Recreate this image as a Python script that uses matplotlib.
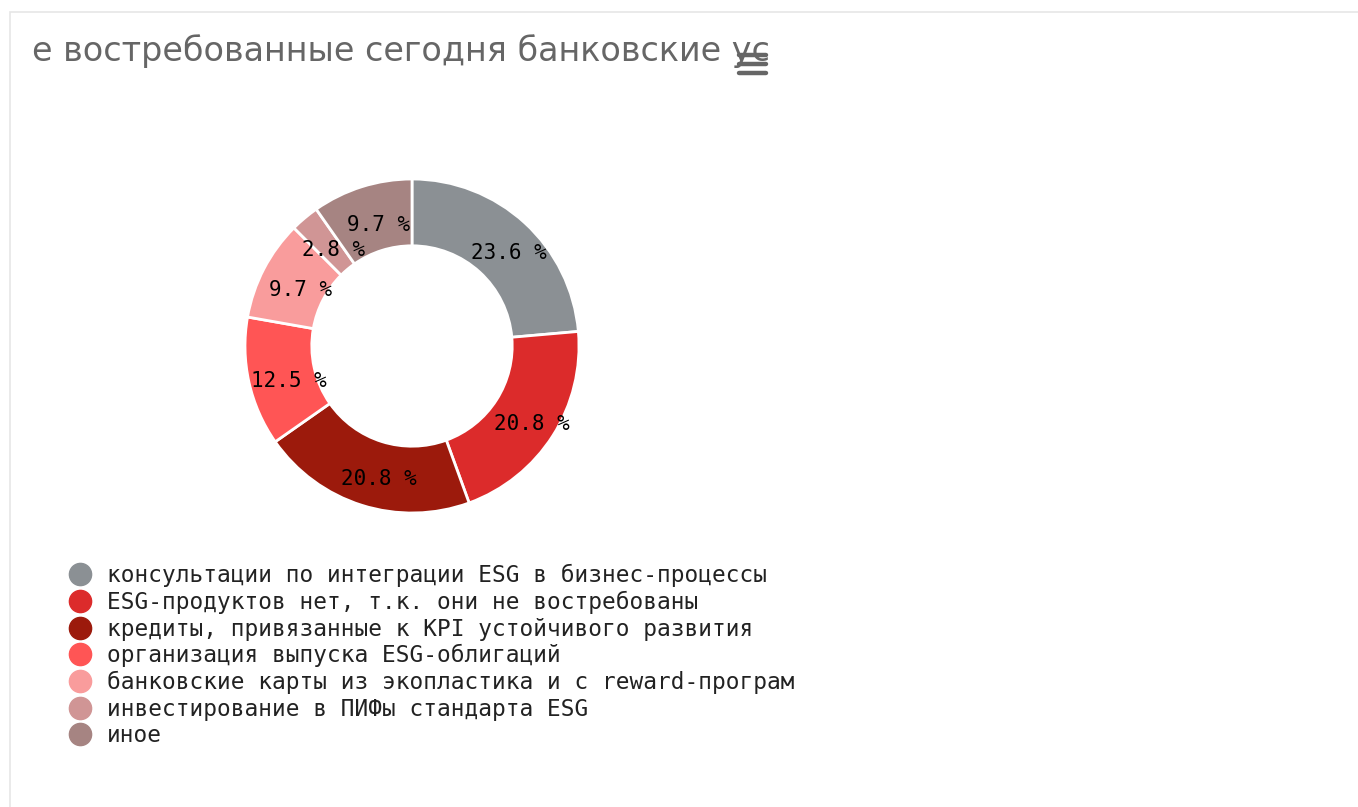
import matplotlib
matplotlib.use("Agg")
import matplotlib.pyplot as plt
from matplotlib.lines import Line2D
from matplotlib.patches import Rectangle
from matplotlib.transforms import Bbox, offset_copy

# данные
categories = [
    "консультации по интеграции ESG в бизнес-процессы",
    "ESG-продуктов нет, т.к. они не востребованы",
    "кредиты, привязанные к KPI устойчивого развития",
    "организация выпуска ESG-облигаций",
    "банковские карты из экопластика и с reward-програм",
    "инвестирование в ПИФы стандарта ESG",
    "иное",
]
counts = [17, 15, 15, 9, 7, 2, 7]
colors = ["#8b9094", "#dc2b2b", "#9c1a0c", "#ff5555", "#f99c9c", "#d09595", "#a68482"]
title = "е востребованные сегодня банковские ус"

W, H = 1358, 807
fig = plt.figure(figsize=(W / 100, H / 100), dpi=100)
fig.patch.set_facecolor("white")

# рамка контейнера
fig.add_artist(Rectangle((10 / W, -0.01), 1.0, 1 - 12 / H + 0.01, transform=fig.transFigure,
                         fill=False, edgecolor="#e6e6e6", linewidth=1.2))

# заголовок (обрезан справа, как в оригинале)
t = fig.text(32 / W, 1 - 51 / H, title, fontsize=24, color="#666666",
             family="DejaVu Sans", va="center", ha="left")
t.set_clip_on(True)
t.set_clip_box(Bbox.from_extents(0, 0, 790, H))

# иконка меню
for yy in (55, 64, 73):
    fig.add_artist(Line2D([739 / W, 766 / W], [1 - yy / H, 1 - yy / H], transform=fig.transFigure,
                          color="#666666", linewidth=3.2, solid_capstyle="round"))

# кольцевая диаграмма
cx, cy, r = 412, 346, 167
ax = fig.add_axes([(cx - r) / W, (H - cy - r) / H, 2 * r / W, 2 * r / H])
wedges, texts, autotexts = ax.pie(
    counts, colors=colors, startangle=90, counterclock=False,
    autopct=lambda p: f"{p:.1f} %", pctdistance=0.8, radius=1,
    wedgeprops=dict(width=0.4, edgecolor="white", linewidth=2),
    textprops=dict(family="DejaVu Sans Mono", fontsize=15, color="black"),
)
for at in autotexts:
    at.set_transform(offset_copy(ax.transData, fig=fig, x=7, y=-6, units="dots"))
ax.set_xlim(-1, 1)
ax.set_ylim(-1, 1)
ax.set_aspect("equal")

# легенда
handles = [Line2D([], [], marker="o", linestyle="", markersize=16, markerfacecolor=c,
                  markeredgecolor=c) for c in colors]
leg = fig.legend(handles, categories, loc="upper left", bbox_to_anchor=(70 / W, 1 - 564 / H),
                 frameon=False, prop=dict(family="DejaVu Sans Mono", size=16.4),
                 handlelength=0.9, handletextpad=0.72, labelspacing=0.155, borderpad=0,
                 borderaxespad=0)
for txt in leg.get_texts():
    txt.set_color("#222222")

fig.savefig("out.png", dpi=100)
